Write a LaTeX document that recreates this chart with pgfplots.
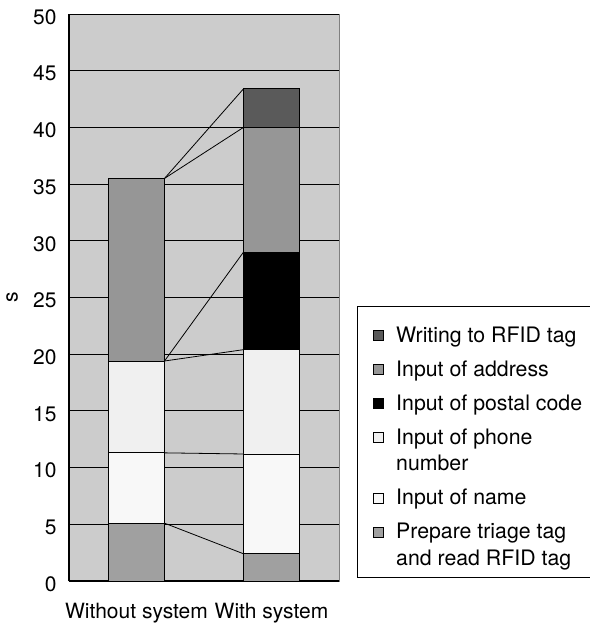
\documentclass[border=0pt]{standalone}
\usepackage{fontspec}
\setmainfont{TeX Gyre Heros}
\usepackage{pgfplots}
\pgfplotsset{compat=1.18}
\definecolor{cprep}{HTML}{A0A0A0}
\definecolor{cname}{HTML}{F8F8F8}
\definecolor{cphone}{HTML}{F0F0F0}
\definecolor{cpostal}{HTML}{000000}
\definecolor{caddr}{HTML}{969696}
\definecolor{cwrite}{HTML}{5A5A5A}
\definecolor{cbg}{HTML}{CCCCCC}
\newcommand\ent[1]{\smash{#1}\rule[-5bp]{0pt}{20bp}}
\newcommand\first[1]{\smash{#1}\rule[-5bp]{0pt}{30bp}}
\newcommand\cont[1]{\smash{#1}\rule[-5bp]{0pt}{12.5bp}}
\begin{document}
\begin{tikzpicture}
\pgfplotsset{
  common/.style={
    scale only axis, width=270bp, height=567bp,
    at={(0,0)}, anchor=south west,
    xmin=-0.5, xmax=1.5, ymin=0, ymax=50,
  }
}
\begin{axis}[common,
  ybar stacked, bar width=0.415,
  font=\fontsize{21bp}{25bp}\selectfont,
  /pgf/number format/assume math mode=true,
  axis background/.style={fill=cbg, draw=gray},
  axis x line*=bottom, axis y line*=left,
  axis line style={black, line width=1.2bp},
  ytick={0,5,...,50},
  ymajorgrids, major grid style={black, line width=0.8bp},
  ytick style={black, line width=0.8bp}, major tick length=3bp,
  yticklabel style={xshift=-9bp, yshift=-3bp},
  xtick={0,1}, xticklabels={Without system, With system},
  xtick style={draw=none},
  xticklabel style={yshift=-19bp},
  extra x ticks={0.5}, extra x tick labels={},
  extra x tick style={major tick length=5bp, tick style={draw=black, line width=0.8bp}},
  ylabel={s},
  ylabel style={at={(axis description cs:-0.2111,0.5)}, anchor=center},
  every axis plot/.append style={draw=black, line width=0.8bp},
]
\addplot[fill=cprep] coordinates {(0,5.1) (1,2.4)};
\addplot[fill=cname] coordinates {(0,6.2) (1,8.8)};
\addplot[fill=cphone] coordinates {(0,8.1) (1,9.2)};
\addplot[fill=cpostal] coordinates {(0,0) (1,8.6)};
\addplot[fill=caddr] coordinates {(0,16.1) (1,11.0)};
\addplot[fill=cwrite] coordinates {(0,0) (1,3.4)};
\end{axis}
\begin{axis}[common, hide axis,
  legend image code/.code={\draw[#1, draw=black, line width=0.8bp] (0bp,1.5bp) rectangle (10bp,11.5bp);},
  legend style={draw=black, line width=0.8bp, fill=white, at={(1,0)}, anchor=south west,
    xshift=18bp, yshift=3bp, inner xsep=16bp, inner ysep=9bp,
    row sep=13.5bp,
    /tikz/every odd column/.append style={column sep=10bp},
    font=\fontsize{21.3bp}{26bp}\selectfont,
    cells={anchor=base west}},
]
\addlegendimage{fill=cwrite}\addlegendentry{\first{Writing to RFID tag}}
\addlegendimage{fill=caddr}\addlegendentry{\ent{Input of address}}
\addlegendimage{fill=cpostal}\addlegendentry{\ent{Input of postal code}}
\addlegendimage{fill=cphone}\addlegendentry{\ent{Input of phone}}
\addlegendimage{empty legend}\addlegendentry{\cont{number}}
\addlegendimage{fill=cname}\addlegendentry{\ent{Input of name}}
\addlegendimage{fill=cprep}\addlegendentry{\ent{Prepare triage tag}}
\addlegendimage{empty legend}\addlegendentry{\cont{and read RFID tag}}
\addplot[black, line width=0.8bp, no marks, forget plot] coordinates {(0.2075,5.1) (0.7925,2.4)};
\addplot[black, line width=0.8bp, no marks, forget plot] coordinates {(0.2075,11.3) (0.7925,11.2)};
\addplot[black, line width=0.8bp, no marks, forget plot] coordinates {(0.2075,19.4) (0.7925,20.4)};
\addplot[black, line width=0.8bp, no marks, forget plot] coordinates {(0.2075,19.4) (0.7925,29.0)};
\addplot[black, line width=0.8bp, no marks, forget plot] coordinates {(0.2075,35.5) (0.7925,40.0)};
\addplot[black, line width=0.8bp, no marks, forget plot] coordinates {(0.2075,35.5) (0.7925,43.4)};
\end{axis}
\pgfresetboundingbox
\path[use as bounding box] (-69bp,-42bp) rectangle (521bp,581bp);
\end{tikzpicture}
\end{document}
